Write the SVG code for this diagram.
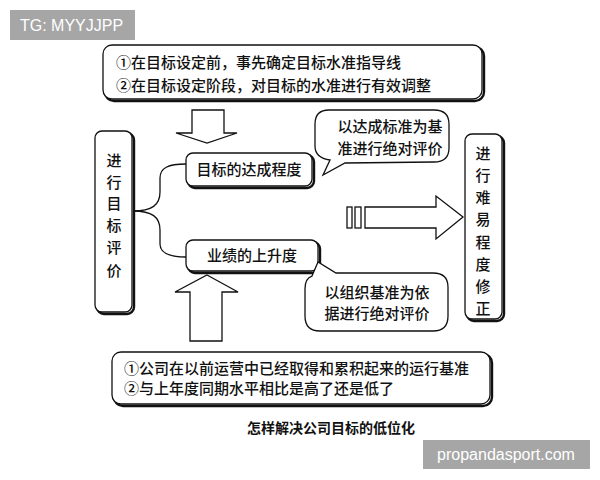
<svg xmlns="http://www.w3.org/2000/svg" width="600" height="480" viewBox="0 0 600 480">
<style>
.cjk{font-family:"Noto Sans CJK SC","Noto Sans",sans-serif;font-size:15px;fill:#111;font-weight:500}
.vt{font-family:"Noto Sans CJK SC","Noto Sans",sans-serif;font-size:15px;fill:#111;font-weight:500;text-anchor:middle}
.shadow{fill:none;stroke:#111;stroke-width:2.4}
.box{fill:#fff;stroke:#111;stroke-width:1.3}
.line{fill:none;stroke:#111;stroke-width:1.3}
.tag{fill:#a6a6a6}
.tagt{font-family:"Liberation Sans",Arial,sans-serif;font-size:16px;fill:#fff}
</style>
<rect width="600" height="480" fill="#fff"/>
<g id="tag-top"><rect class="tag" x="10" y="10" width="125" height="30"/><text class="tagt" x="20" y="31">TG: MYYJJPP</text></g>
<g id="top-box">
<rect class="shadow" x="105" y="47" width="379" height="54" rx="9"/>
<rect class="box" x="103" y="45" width="379" height="54" rx="9"/>
<text class="cjk" x="116" y="68">①在目标设定前，事先确定目标水准指导线</text>
<text class="cjk" x="116" y="91">②在目标设定阶段，对目标的水准进行有效调整</text>
</g>
<g id="left-box">
<rect class="shadow" x="97" y="133" width="37" height="181" rx="7"/>
<rect class="box" x="95" y="131" width="37" height="181" rx="7"/>
<text class="vt" x="114" y="166">进</text>
<text class="vt" x="114" y="188">行</text>
<text class="vt" x="114" y="209">目</text>
<text class="vt" x="114" y="231">标</text>
<text class="vt" x="114" y="253">评</text>
<text class="vt" x="114" y="276">价</text>
</g>
<g id="box-achieve">
<rect class="shadow" x="188" y="155" width="126" height="33" rx="7"/>
<rect class="box" x="186" y="153" width="126" height="33" rx="7"/>
<text class="cjk" x="249" y="175" text-anchor="middle">目标的达成程度</text>
</g>
<g id="box-rise">
<rect class="shadow" x="188" y="242" width="132" height="31" rx="7"/>
<rect class="box" x="186" y="240" width="132" height="31" rx="7"/>
<text class="cjk" x="252" y="261" text-anchor="middle">业绩的上升度</text>
</g>
<g id="callout-top">
<path class="box" d="M329,110 L434,110 Q449,110 449,124 L449,148 Q449,162 434,162 L345,163 L323,175 L330,160 Q315,158 315,146 L315,124 Q315,110 329,110 Z"/>
<text class="cjk" x="390" y="132" text-anchor="middle">以达成标准为基</text>
<text class="cjk" x="390" y="154" text-anchor="middle">准进行绝对评价</text>
</g>
<g id="callout-bottom">
<path class="box" d="M336,273 L433,273 Q448,273 448,287 L448,316 Q448,331 433,331 L320,331 Q305,331 305,316 L305,289 Q305,278 312,276 L318,262 Z"/>
<text class="cjk" x="377" y="298" text-anchor="middle">以组织基准为依</text>
<text class="cjk" x="377" y="319" text-anchor="middle">据进行绝对评价</text>
</g>
<g id="right-box">
<rect class="shadow" x="467" y="136" width="37" height="185" rx="7"/>
<rect class="box" x="465" y="134" width="37" height="185" rx="7"/>
<text class="vt" x="483" y="159">进</text>
<text class="vt" x="483" y="181">行</text>
<text class="vt" x="483" y="203">难</text>
<text class="vt" x="483" y="225">易</text>
<text class="vt" x="483" y="248">程</text>
<text class="vt" x="483" y="270">度</text>
<text class="vt" x="483" y="292">修</text>
<text class="vt" x="483" y="314">正</text>
</g>
<g id="bottom-box">
<rect class="shadow" x="114" y="354" width="378" height="52" rx="9"/>
<rect class="box" x="112" y="352" width="378" height="52" rx="9"/>
<text class="cjk" x="124" y="374">①公司在以前运营中已经取得和累积起来的运行基准</text>
<text class="cjk" x="124" y="394">②与上年度同期水平相比是高了还是低了</text>
</g>
<g id="caption"><text x="331" y="433" text-anchor="middle" style="font-family:'Noto Sans CJK SC',sans-serif;font-size:14px;font-weight:700;fill:#111">怎样解决公司目标的低位化</text></g>
<g id="tag-bottom"><rect class="tag" x="423" y="440" width="167" height="29"/><text class="tagt" x="506" y="460" text-anchor="middle">propandasport.com</text></g>
<g id="connectors">
<path class="line" d="M133,211 C152,211 160,205 160,192 L160,178 C160,168 168,164 186,164"/>
<path class="line" d="M133,211 C152,211 160,217 160,230 L160,244 C160,253 168,257 186,257"/>
<polygon class="box" points="192,110 224,110 224,133 237,133 207,143 176,133 192,133"/>
<polygon class="box" points="207,275 238,292 222,292 222,341 190,341 190,292 175,292"/>
<rect class="box" x="347" y="207" width="5" height="21"/>
<rect class="box" x="355" y="207" width="6" height="21"/>
<polygon class="box" points="365,207 436,207 436,196 463,217 436,239 436,228 365,228"/>
</g>
</svg>
